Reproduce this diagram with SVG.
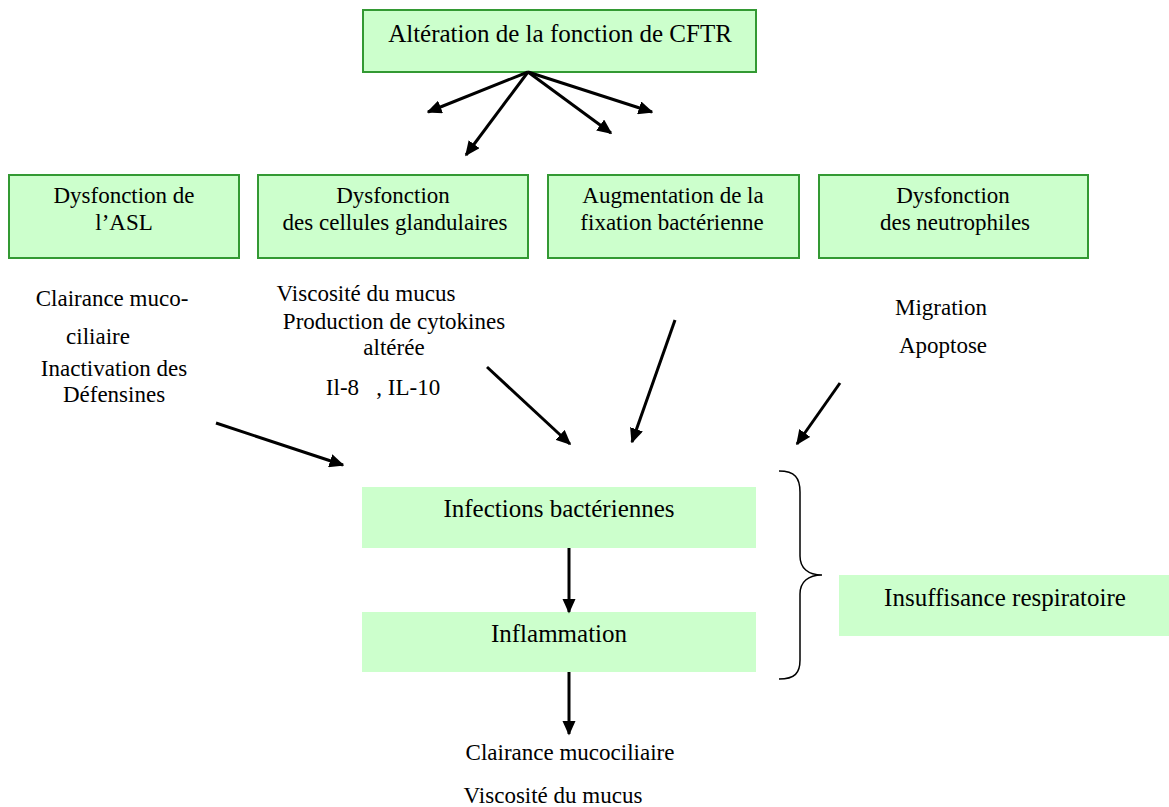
<svg xmlns="http://www.w3.org/2000/svg" width="1169" height="807" viewBox="0 0 1169 807">
<style>
text{font-family:"Liberation Serif","Times New Roman",serif;font-size:23px;fill:#000;text-anchor:middle}
text.big{font-size:25px}
.box{fill:#ccffcc;stroke:#339933;stroke-width:2}
.pl{fill:#ccffcc;stroke:none}
.c{stroke:#000;stroke-width:3;fill:none;marker-end:url(#ah)}
.brace{stroke:#000;stroke-width:1.5;fill:none}
</style>
<defs>
<marker id="ah" viewBox="0 0 10 10" refX="9" refY="5" markerWidth="5" markerHeight="4.5" orient="auto" markerUnits="strokeWidth" preserveAspectRatio="none">
<path d="M0,0 L10,5 L0,10 z" fill="#000"/>
</marker>
</defs>
<g id="n-cftr"><rect class="box" x="363" y="10" width="393" height="62"/><text class="big" x="560" y="42">Altération de la fonction de CFTR</text></g>
<g id="n-asl"><rect class="box" x="9" y="175" width="230" height="83"/><text x="124" y="203">Dysfonction de</text><text x="124" y="230">l’ASL</text></g>
<g id="n-gland"><rect class="box" x="258" y="175" width="270" height="83"/><text x="393" y="203">Dysfonction</text><text x="395" y="230">des cellules glandulaires</text></g>
<g id="n-fix"><rect class="box" x="548" y="175" width="251" height="83"/><text x="673" y="203">Augmentation de la</text><text x="672" y="230">fixation bactérienne</text></g>
<g id="n-neut"><rect class="box" x="819" y="175" width="269" height="83"/><text x="953" y="203">Dysfonction</text><text x="955" y="230">des neutrophiles</text></g>
<g id="t-asl"><text x="112" y="306">Clairance muco-</text><text x="98" y="344">ciliaire</text><text x="114" y="376">Inactivation des</text><text x="114" y="402">Défensines</text></g>
<g id="t-gland"><text x="366" y="301">Viscosité du mucus</text><text x="394" y="329">Production de cytokines</text><text x="394" y="355">altérée</text><text x="383" y="395" xml:space="preserve">Il-8   , IL-10</text></g>
<g id="t-neut"><text x="941" y="315">Migration</text><text x="943" y="353">Apoptose</text></g>
<g id="n-inf"><rect class="pl" x="362" y="487" width="394" height="61"/><text class="big" x="559" y="517">Infections bactériennes</text></g>
<g id="n-infl"><rect class="pl" x="362" y="612" width="394" height="60"/><text class="big" x="559" y="642">Inflammation</text></g>
<g id="n-insuf"><rect class="pl" x="839" y="575" width="330" height="61"/><text class="big" x="1005" y="606">Insuffisance respiratoire</text></g>
<g id="t-out"><text x="570" y="760">Clairance mucociliaire</text><text x="553" y="803">Viscosité du mucus</text></g>
<g id="brace"><path class="brace" d="M779,471 C795,471 800,478 800,492 L800,556 C800,568 808,575 822,575 C808,575 800,582 800,594 L800,660 C800,673 795,679 779,679"/></g>
<g id="connectors">
<line class="c" x1="528" y1="72" x2="428" y2="112"/>
<line class="c" x1="528" y1="72" x2="466" y2="155"/>
<line class="c" x1="528" y1="72" x2="611" y2="133"/>
<line class="c" x1="528" y1="72" x2="652" y2="112"/>
<line class="c" x1="216" y1="423" x2="343" y2="465"/>
<line class="c" x1="487" y1="367" x2="570" y2="444"/>
<line class="c" x1="675" y1="320" x2="632" y2="442"/>
<line class="c" x1="840" y1="383" x2="797" y2="444"/>
<line class="c" x1="569" y1="548" x2="569" y2="612"/>
<line class="c" x1="569" y1="672" x2="569" y2="734"/>
</g>
</svg>
